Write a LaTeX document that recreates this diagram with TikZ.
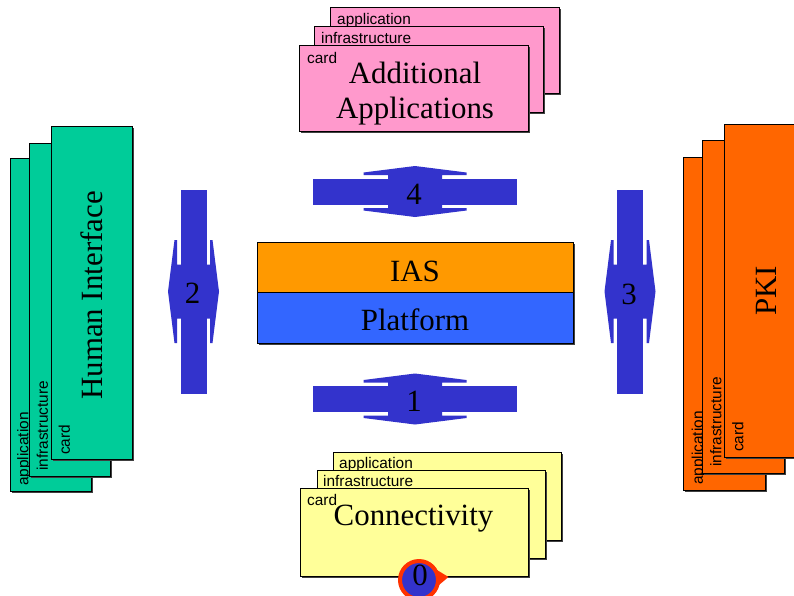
\documentclass[tikz,border=0pt]{standalone}
\usepackage{fontspec}
\setmainfont{Liberation Serif}
\newfontfamily\labfont{Liberation Sans}
\usetikzlibrary{shadows}
\definecolor{cgreen}{RGB}{0,204,153}
\definecolor{corange}{RGB}{255,102,0}
\definecolor{cpink}{RGB}{255,153,204}
\definecolor{cyellow}{RGB}{255,255,153}
\definecolor{cblue}{RGB}{51,51,204}
\definecolor{cias}{RGB}{255,153,0}
\definecolor{cplat}{RGB}{51,102,255}
\definecolor{cred}{RGB}{255,51,0}
\tikzset{
  dblarrow/.pic={
    \fill[cblue] (-102,-13) rectangle (102,13);
    \fill[cblue] (0,-25.5) -- (51.5,-19) -- (51.5,-16.5) -- (27,-16.5) -- (27,16.5)
      -- (51.5,16.5) -- (51.5,19) -- (0,25.5) -- (-51.5,19) -- (-51.5,16.5)
      -- (-27,16.5) -- (-27,-16.5) -- (-51.5,-16.5) -- (-51.5,-19) -- cycle;
  }
}
\begin{document}
\begin{tikzpicture}[x=1pt,y=-1pt,
  card/.style={draw=black,line width=0.7pt,inner sep=0pt,outer sep=0pt,anchor=north west,
    drop shadow={shadow xshift=2pt,shadow yshift=-2pt,fill=black!75,opacity=1}},
  topcard/.style={card,fill=cpink,minimum width=229pt,minimum height=86pt},
  botcard/.style={card,fill=cyellow,minimum width=228pt,minimum height=88pt},
  lcard/.style={card,fill=cgreen,minimum width=81pt,minimum height=333pt},
  rcard/.style={card,fill=corange,minimum width=82pt,minimum height=333pt},
  lab/.style={font=\labfont\fontsize{15.4}{18}\selectfont,inner sep=0pt,anchor=north west},
  vlab/.style={lab,rotate=90},
  big/.style={font=\fontsize{30.9}{35}\selectfont,inner sep=0pt},
]
\useasboundingbox (0,0) rectangle (794,595);
\clip (0,0) rectangle (794,595);
\fill[white] (0,0) rectangle (794,595);

% top stack
\node[topcard] (ta) at (330,7) {};
\node[lab] (tal) at ([shift={(7,6)}]ta.north west) {application};
\node[topcard] (tb) at (314,26) {};
\node[lab] (tbl) at ([shift={(7,6)}]tb.north west) {infrastructure};
\node[topcard] (tc) at (299,45) {};
\node[lab] (tcl) at ([shift={(8,7)}]tc.north west) {card};
\node[big,align=center] (tct) at (415,93.4) {Additional\\Applications};

% bottom stack
\node[botcard] (ba) at (333,452) {};
\node[lab] (bal) at ([shift={(6,5)}]ba.north west) {application};
\node[botcard] (bb) at (317,470) {};
\node[lab] (bbl) at ([shift={(6,5)}]bb.north west) {infrastructure};
\node[botcard] (bc) at (300,488) {};
\node[lab] (bcl) at ([shift={(7,6)}]bc.north west) {card};
\node[big,anchor=base] (bct) at (413.5,525) {Connectivity};

% left stack
\node[lcard] (la) at (10,158) {};
\node[vlab] (lal) at ([shift={(7,-5)}]la.south west) {application};
\node[lcard] (lb) at (29,143) {};
\node[vlab] (lbl) at ([shift={(7.5,-5)}]lb.south west) {infrastructure};
\node[lcard] (lc) at (51,126) {};
\node[vlab] (lcl) at ([shift={(7.5,-4)}]lc.south west) {card};
\node[big,rotate=90] (lct) at (91.5,295.5) {Human Interface};

% right stack
\node[rcard] (ra) at (683,157) {};
\node[vlab] (ral) at ([shift={(8.5,-5)}]ra.south west) {application};
\node[rcard] (rb) at (702,140) {};
\node[vlab] (rbl) at ([shift={(8,-6)}]rb.south west) {infrastructure};
\node[rcard] (rc) at (724,124) {};
\node[vlab] (rcl) at ([shift={(8,-5)}]rc.south west) {card};
\node[big,rotate=90] (rct) at (766,291) {PKI};

% centre block
\node[card,fill=cias,minimum width=316pt,minimum height=50pt] (ias) at (257,242) {};
\node[card,fill=cplat,minimum width=316pt,minimum height=51pt] (plat) at (257,292) {};
\node[big,anchor=base] (iast) at (415,281) {IAS};
\node[big,anchor=base] (platt) at (415,330) {Platform};

% arrows
\pic at (415,191.5) {dblarrow};
\pic at (415,399) {dblarrow};
\pic[rotate=90] at (193.5,291.5) {dblarrow};
\pic[rotate=90] at (630,291.5) {dblarrow};
\node[big,anchor=base] (n4) at (414,204) {4};
\node[big,anchor=base] (n1) at (414,411) {1};
\node[big,anchor=base] (n2) at (192.5,303) {2};
\node[big,anchor=base] (n3) at (629,304) {3};

% marker 0
\fill[cred] (437,570) -- (448.5,577) -- (433,590) -- cycle;
\node[circle,fill=cblue,draw=cred,line width=4pt,minimum size=38pt,inner sep=0pt] (m0) at (419,580) {};
\node[big,anchor=base] (m0t) at (420,585.5) {0};
\end{tikzpicture}
\end{document}
